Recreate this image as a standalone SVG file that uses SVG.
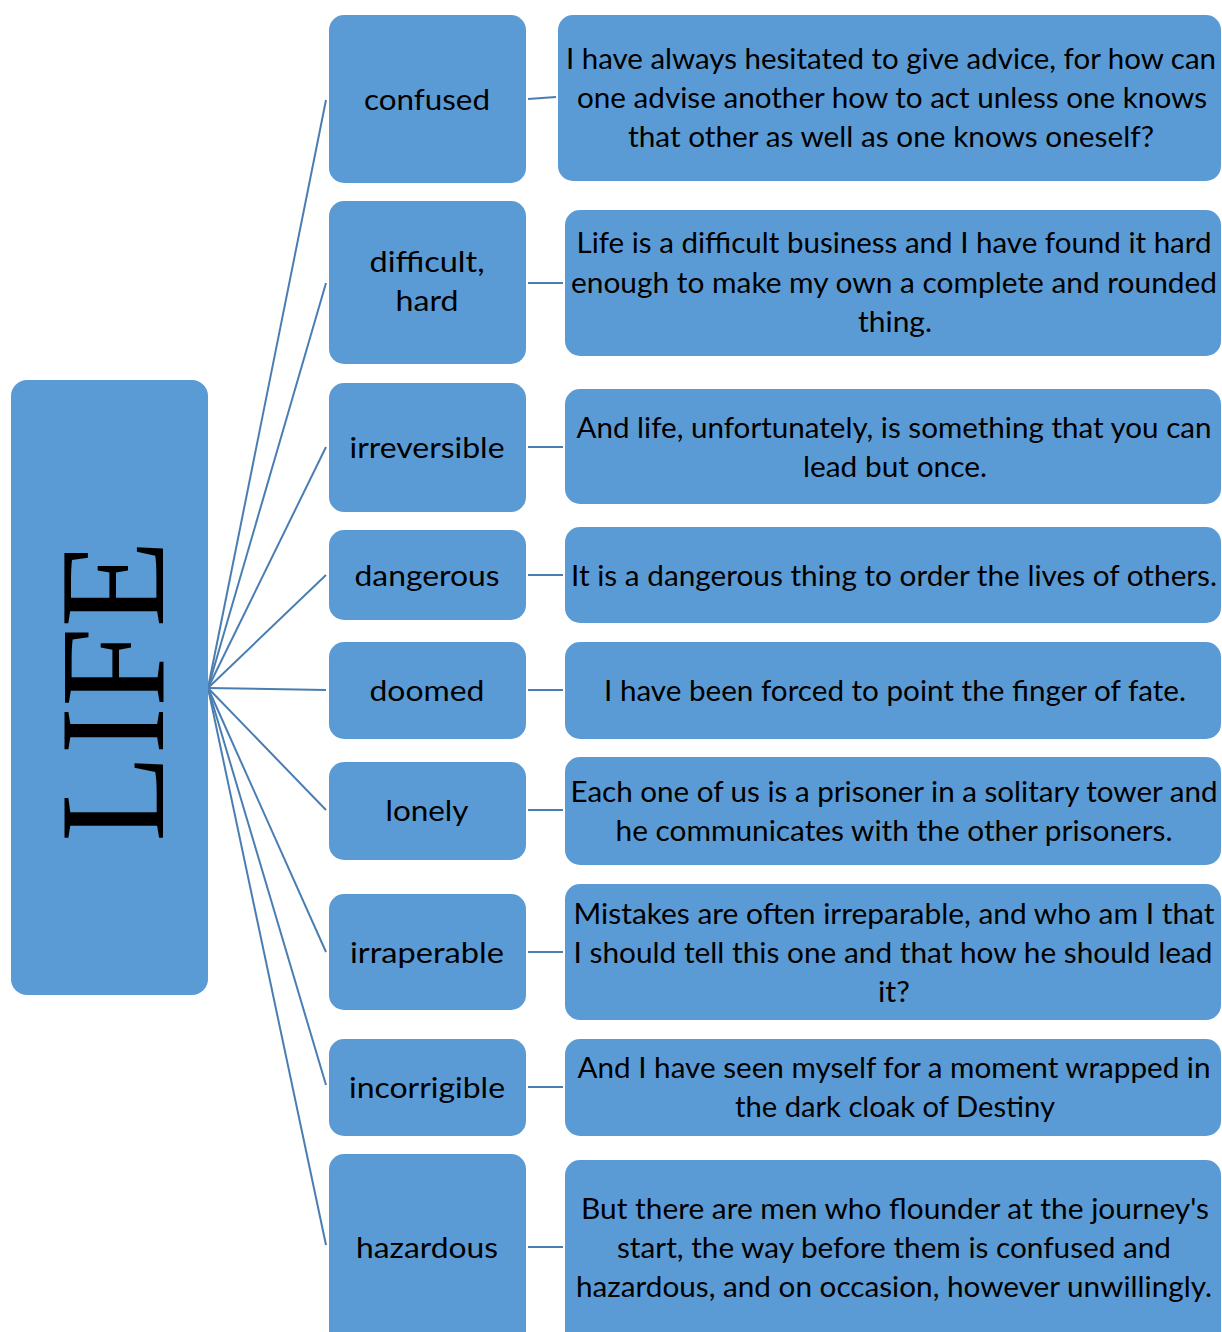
<svg xmlns="http://www.w3.org/2000/svg" width="1222" height="1332" viewBox="0 0 1222 1332">
<style>
.box{fill:#5b9bd5;}
.t{font-family:Lato,"Open Sans","Liberation Sans",sans-serif;font-size:28px;fill:#000;text-anchor:middle;}
.life{font-family:"Liberation Serif","DejaVu Serif",serif;font-size:150px;fill:#000;text-anchor:middle;}
.c{stroke:#4a7eb2;stroke-width:2;fill:none;}
</style>
<rect width="1222" height="1332" fill="#fff"/>
<g id="connectors">
<line class="c" x1="208" y1="688" x2="326" y2="100"/>
<line class="c" x1="208" y1="688" x2="326" y2="283"/>
<line class="c" x1="208" y1="688" x2="326" y2="447"/>
<line class="c" x1="208" y1="688" x2="326" y2="575"/>
<line class="c" x1="208" y1="688" x2="326" y2="690"/>
<line class="c" x1="208" y1="688" x2="326" y2="810"/>
<line class="c" x1="208" y1="688" x2="326" y2="952"/>
<line class="c" x1="208" y1="688" x2="326" y2="1085"/>
<line class="c" x1="208" y1="688" x2="326" y2="1245"/>
<line class="c" x1="528" y1="99" x2="556" y2="97"/>
<line class="c" x1="528" y1="283" x2="563" y2="283"/>
<line class="c" x1="528" y1="447" x2="563" y2="447"/>
<line class="c" x1="528" y1="575" x2="563" y2="575"/>
<line class="c" x1="528" y1="690" x2="563" y2="690"/>
<line class="c" x1="528" y1="810" x2="563" y2="810"/>
<line class="c" x1="528" y1="952" x2="563" y2="952"/>
<line class="c" x1="528" y1="1087" x2="563" y2="1087"/>
<line class="c" x1="528" y1="1247" x2="563" y2="1247"/>
</g>
<g id="life">
<rect class="box" x="11" y="380" width="197" height="615" rx="16"/>
<text class="life" transform="translate(163,691) rotate(-90)" x="0" y="0" textLength="302" lengthAdjust="spacingAndGlyphs">LIFE</text>
</g>
<g id="n-confused">
<rect class="box" x="329" y="15" width="197" height="168" rx="15"/>
<text class="t" x="427" y="110" textLength="126" lengthAdjust="spacingAndGlyphs">confused</text>
</g>
<g id="n-difficult">
<rect class="box" x="329" y="201" width="197" height="163" rx="15"/>
<text class="t" x="427" y="272" textLength="115" lengthAdjust="spacingAndGlyphs">difficult,</text>
<text class="t" x="427" y="311" textLength="63" lengthAdjust="spacingAndGlyphs">hard</text>
</g>
<g id="n-irreversible">
<rect class="box" x="329" y="383" width="197" height="129" rx="15"/>
<text class="t" x="427" y="458" textLength="155" lengthAdjust="spacingAndGlyphs">irreversible</text>
</g>
<g id="n-dangerous">
<rect class="box" x="329" y="530" width="197" height="90" rx="15"/>
<text class="t" x="427" y="586" textLength="145" lengthAdjust="spacingAndGlyphs">dangerous</text>
</g>
<g id="n-doomed">
<rect class="box" x="329" y="642" width="197" height="97" rx="15"/>
<text class="t" x="427" y="701" textLength="115" lengthAdjust="spacingAndGlyphs">doomed</text>
</g>
<g id="n-lonely">
<rect class="box" x="329" y="762" width="197" height="98" rx="15"/>
<text class="t" x="427" y="821" textLength="83" lengthAdjust="spacingAndGlyphs">lonely</text>
</g>
<g id="n-irraperable">
<rect class="box" x="329" y="894" width="197" height="116" rx="15"/>
<text class="t" x="427" y="963" textLength="154" lengthAdjust="spacingAndGlyphs">irraperable</text>
</g>
<g id="n-incorrigible">
<rect class="box" x="329" y="1039" width="197" height="97" rx="15"/>
<text class="t" x="427" y="1098" textLength="156" lengthAdjust="spacingAndGlyphs">incorrigible</text>
</g>
<g id="n-hazardous">
<rect class="box" x="329" y="1154" width="197" height="200" rx="15"/>
<text class="t" x="427" y="1258" textLength="142" lengthAdjust="spacingAndGlyphs">hazardous</text>
</g>
<g id="q-confused">
<rect class="box" x="558" y="15" width="663" height="166" rx="15"/>
<text class="t" x="891" y="69" textLength="650" lengthAdjust="spacingAndGlyphs">I have always hesitated to give advice, for how can</text>
<text class="t" x="892" y="108" textLength="630" lengthAdjust="spacingAndGlyphs">one advise another how to act unless one knows</text>
<text class="t" x="891" y="147" textLength="526" lengthAdjust="spacingAndGlyphs">that other as well as one knows oneself?</text>
</g>
<g id="q-difficult">
<rect class="box" x="565" y="210" width="656" height="146" rx="15"/>
<text class="t" x="894" y="253" textLength="635" lengthAdjust="spacingAndGlyphs">Life is a difficult business and I have found it hard</text>
<text class="t" x="894" y="293" textLength="646" lengthAdjust="spacingAndGlyphs">enough to make my own a complete and rounded</text>
<text class="t" x="895" y="332" textLength="74" lengthAdjust="spacingAndGlyphs">thing.</text>
</g>
<g id="q-irreversible">
<rect class="box" x="565" y="389" width="656" height="115" rx="15"/>
<text class="t" x="894" y="438" textLength="635" lengthAdjust="spacingAndGlyphs">And life, unfortunately, is something that you can</text>
<text class="t" x="895" y="477" textLength="184" lengthAdjust="spacingAndGlyphs">lead but once.</text>
</g>
<g id="q-dangerous">
<rect class="box" x="565" y="527" width="656" height="96" rx="15"/>
<text class="t" x="894" y="586" textLength="646" lengthAdjust="spacingAndGlyphs">It is a dangerous thing to order the lives of others.</text>
</g>
<g id="q-doomed">
<rect class="box" x="565" y="642" width="656" height="97" rx="15"/>
<text class="t" x="895" y="701" textLength="582" lengthAdjust="spacingAndGlyphs">I have been forced to point the finger of fate.</text>
</g>
<g id="q-lonely">
<rect class="box" x="565" y="757" width="656" height="108" rx="15"/>
<text class="t" x="894" y="802" textLength="647" lengthAdjust="spacingAndGlyphs">Each one of us is a prisoner in a solitary tower and</text>
<text class="t" x="894" y="841" textLength="557" lengthAdjust="spacingAndGlyphs">he communicates with the other prisoners.</text>
</g>
<g id="q-irraperable">
<rect class="box" x="565" y="884" width="656" height="136" rx="15"/>
<text class="t" x="894" y="924" textLength="641" lengthAdjust="spacingAndGlyphs">Mistakes are often irreparable, and who am I that</text>
<text class="t" x="893" y="963" textLength="639" lengthAdjust="spacingAndGlyphs">I should tell this one and that how he should lead</text>
<text class="t" x="894" y="1002" textLength="32" lengthAdjust="spacingAndGlyphs">it?</text>
</g>
<g id="q-incorrigible">
<rect class="box" x="565" y="1039" width="656" height="97" rx="15"/>
<text class="t" x="894" y="1078" textLength="633" lengthAdjust="spacingAndGlyphs">And I have seen myself for a moment wrapped in</text>
<text class="t" x="895" y="1117" textLength="320" lengthAdjust="spacingAndGlyphs">the dark cloak of Destiny</text>
</g>
<g id="q-hazardous">
<rect class="box" x="565" y="1160" width="656" height="200" rx="15"/>
<text class="t" x="895" y="1219" textLength="628" lengthAdjust="spacingAndGlyphs">But there are men who flounder at the journey's</text>
<text class="t" x="894" y="1258" textLength="554" lengthAdjust="spacingAndGlyphs">start, the way before them is confused and</text>
<text class="t" x="894" y="1297" textLength="636" lengthAdjust="spacingAndGlyphs">hazardous, and on occasion, however unwillingly.</text>
</g>
</svg>
